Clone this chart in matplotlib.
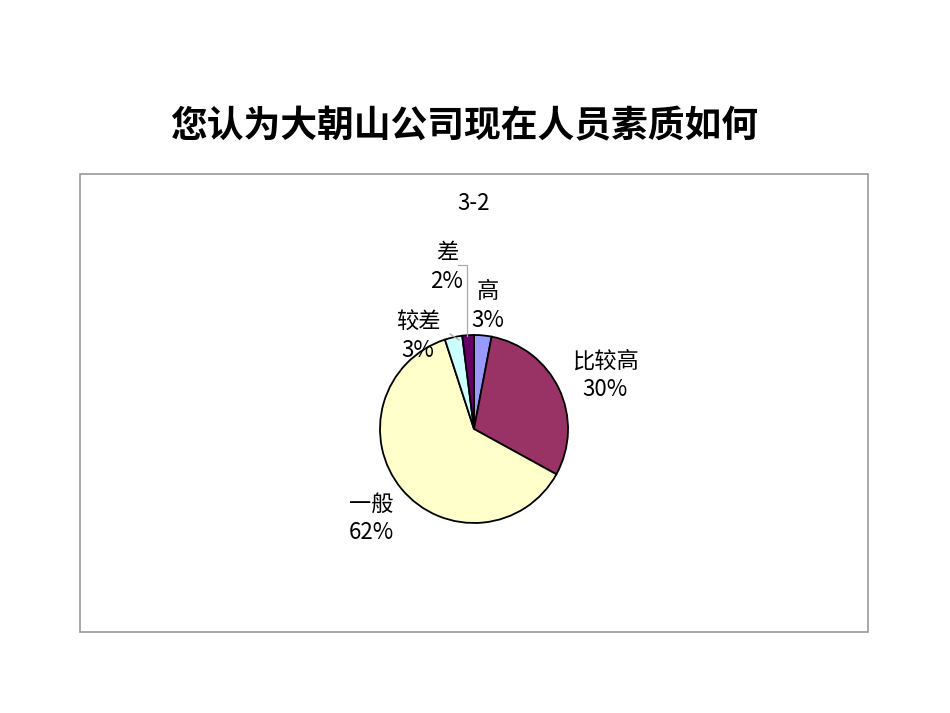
import matplotlib
matplotlib.use("Agg")
import matplotlib.pyplot as plt
from matplotlib.patches import Rectangle

plt.rcParams['font.family'] = ['Noto Sans CJK SC', 'DejaVu Sans']

# data
title = "您认为大朝山公司现在人员素质如何"
subtitle = "3-2"
labels = ["高", "比较高", "一般", "较差", "差"]
values = [3, 30, 62, 3, 2]
colors = ["#9999FF", "#993366", "#FFFFCC", "#CCFFFF", "#660066"]

W, H = 950, 713
fig = plt.figure(figsize=(W / 100, H / 100), dpi=100)
ax = fig.add_axes([0, 0, 1, 1])

def py(y):
    # pixel row -> data y
    return H - y

cx, cy, r = 474, 429, 94
ax.pie(values, colors=colors, startangle=90, counterclock=False,
       center=(cx, py(cy)), radius=r,
       wedgeprops=dict(edgecolor="black", linewidth=1.3))

ax.set_xlim(0, W)
ax.set_ylim(0, H)
ax.set_aspect("equal")
ax.axis("off")

# chart frame
ax.add_patch(Rectangle((80, py(632)), 788, 458, fill=False,
                       edgecolor="#999999", linewidth=1.2))

ax.text(464, py(127), title, ha="center", va="center",
        fontsize=26.5, fontweight="bold")
ax.text(474, py(203), subtitle, ha="center", va="center", fontsize=16)

# label spots (pixels)
label_pos = [(488, 306), (605, 375), (371, 518), (418, 336), (447, 267)]
for lab, v, (x, y) in zip(labels, values, label_pos):
    ax.text(x, py(y), "{}\n{}%".format(lab, v), ha="center", va="center",
            fontsize=16, linespacing=1.3)

# leader lines
ax.plot([458, 467, 467], [py(265), py(265), py(336)], color="#AAAAAA", lw=0.9)
ax.plot([450, 459], [py(334), py(340)], color="#AAAAAA", lw=0.9)

fig.savefig("out.png", dpi=100)
